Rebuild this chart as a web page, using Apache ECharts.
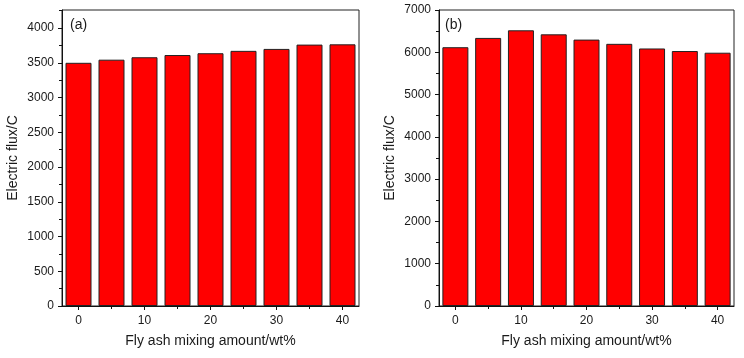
<!DOCTYPE html>
<html>
<head>
<meta charset="utf-8">
<script src="https://cdn.jsdelivr.net/npm/echarts@6/dist/echarts.min.js"></script>
<style>
  html, body { margin: 0; padding: 0; background: #fff; }
  #chart { width: 744px; height: 358px; }
</style>
</head>
<body>
<div id="chart"></div>
<script>
// fly ash content (wt%)
const flyAsh = [0, 5, 10, 15, 20, 25, 30, 35, 40];
// electric flux, panel (a) and panel (b)
const fluxA = [3500, 3545, 3580, 3612, 3638, 3672, 3700, 3762, 3766];
const fluxB = [6120, 6340, 6520, 6425, 6300, 6200, 6090, 6030, 5990];

const xMajor = [0, 10, 20, 30, 40];
const xMinor = [5, 15, 25, 35];
const yMajorA = [0, 500, 1000, 1500, 2000, 2500, 3000, 3500, 4000];
const yMinorA = [250, 750, 1250, 1750, 2250, 2750, 3250, 3750, 4250];
const yMajorB = [0, 1000, 2000, 3000, 4000, 5000, 6000, 7000];
const yMinorB = [500, 1500, 2500, 3500, 4500, 5500, 6500];

const FONT = 'Liberation Sans, Arial, sans-serif';
const TXT = '#1a1a1a';

function pairs(xs, ys) {
    return xs.map(function (x, i) { return [x, ys[i]]; });
}

function plain(v) {
    return String(v);
}

// main axis + an overlay axis that only carries the short minor ticks
function xAxes(grid) {
    let base = {
        type: 'value', gridIndex: grid, min: -2.5, max: 42.5,
        position: 'bottom', splitLine: { show: false }
    };
    return [
        Object.assign({}, base, {
            name: 'Fly ash mixing amount/wt%',
            nameLocation: 'middle',
            nameGap: 28,
            nameTextStyle: { fontFamily: FONT, fontSize: 14, color: TXT },
            axisLine: { show: true, onZero: false, lineStyle: { color: '#111', width: 1 } },
            axisTick: { show: true, customValues: xMajor, length: 4, lineStyle: { color: '#111' } },
            axisLabel: { customValues: xMajor, formatter: plain, margin: 9, fontFamily: FONT, fontSize: 12, color: TXT }
        }),
        Object.assign({}, base, {
            axisLine: { show: false, onZero: false },
            axisTick: { show: true, customValues: xMinor, length: 3, lineStyle: { color: '#111' } },
            axisLabel: { show: false }
        })
    ];
}

function yAxes(grid, max, major, minor) {
    let base = {
        type: 'value', gridIndex: grid, min: 0, max: max,
        position: 'left', offset: 0, splitLine: { show: false }
    };
    return [
        Object.assign({}, base, {
            name: 'Electric flux/C',
            nameLocation: 'middle',
            nameGap: 42,
            nameTextStyle: { fontFamily: FONT, fontSize: 14, color: TXT },
            axisLine: { show: true, onZero: false, lineStyle: { color: '#111', width: 1 } },
            axisTick: { show: true, customValues: major, length: 4, lineStyle: { color: '#111' } },
            axisLabel: { customValues: major, formatter: plain, margin: 8, fontFamily: FONT, fontSize: 12, color: TXT }
        }),
        Object.assign({}, base, {
            axisLine: { show: false, onZero: false },
            axisTick: { show: true, customValues: minor, length: 3, lineStyle: { color: '#111' } },
            axisLabel: { show: false }
        })
    ];
}

function barSeries(xIdx, yIdx, data) {
    return {
        type: 'bar',
        xAxisIndex: xIdx,
        yAxisIndex: yIdx,
        barWidth: 26,
        data: pairs(flyAsh, data),
        itemStyle: { color: '#ff0000', borderColor: '#222', borderWidth: 1 },
        emphasis: { disabled: true }
    };
}

let chart = echarts.init(document.getElementById('chart'));

let panelLabel = { fontFamily: FONT, fontSize: 14, fontWeight: 'normal', color: TXT };

let options = {
    animation: false,
    backgroundColor: '#fff',
    title: [
        { text: '(a)', left: 70, top: 18, padding: 0, textStyle: panelLabel },
        { text: '(b)', left: 445, top: 18, padding: 0, textStyle: panelLabel }
    ],
    grid: [
        { left: 62, width: 297, top: 10, bottom: 52, show: true, borderColor: '#222', borderWidth: 1 },
        { left: 439, width: 295, top: 10, bottom: 52, show: true, borderColor: '#222', borderWidth: 1 }
    ],
    xAxis: xAxes(0).concat(xAxes(1)),
    yAxis: yAxes(0, 4260, yMajorA, yMinorA).concat(yAxes(1, 7000, yMajorB, yMinorB)),
    series: [
        barSeries(0, 0, fluxA),
        barSeries(2, 2, fluxB)
    ]
};

chart.setOption(options);
</script>
</body>
</html>
